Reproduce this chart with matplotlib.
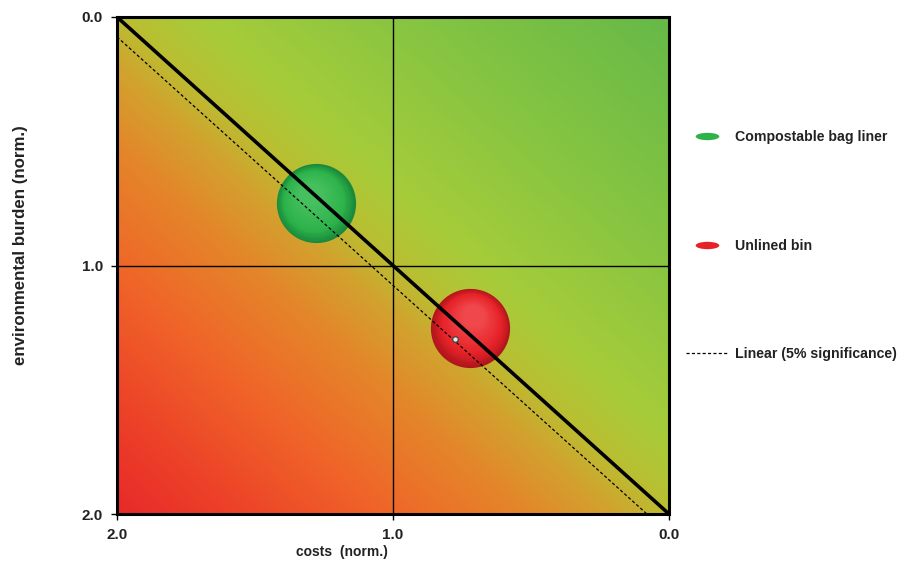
import matplotlib
matplotlib.use("Agg")
import matplotlib.pyplot as plt
import matplotlib.transforms as mtransforms
from matplotlib.colors import LinearSegmentedColormap, to_rgb
from matplotlib.lines import Line2D
from matplotlib.path import Path
import numpy as np

plt.rcParams['font.family'] = ['Liberation Sans', 'DejaVu Sans']

# data
names = ["Compostable bag liner", "Unlined bin"]
costs = [1.28, 0.72]
burden = [0.75, 1.25]
dark_cols = ["#1a8a3c", "#b0161c"]
light_cols = ["#48c060", "#f04a4e"]
base_cols = ["#2db34a", "#e62228"]
hl_offsets = [(-4, 7), (2, 9)]

diag_x = [2.0, 0.0]
diag_y = [0.0, 2.0]
lin_x = [2.0, 0.08]
lin_y = [0.08, 2.0]
lin_label = "Linear (5% significance)"
dot_x, dot_y = 0.776, 1.296

ticks = [0.0, 1.0, 2.0]
tick_labels = ["0.0", "1.0", "2.0"]

fig = plt.figure(figsize=(8.99, 5.65), dpi=100)
ax = fig.add_axes([117/899, 1 - 514/565, 552/899, 497/565])

# background gradient, red bottom-left -> green top-right
grad = LinearSegmentedColormap.from_list("eco", [
    (0.0, "#e82a2a"), (0.1, "#ec4028"), (0.24, "#f06428"),
    (0.37, "#e4862a"), (0.45, "#d2a22e"), (0.51, "#b8c032"),
    (0.58, "#a6cc3a"), (0.78, "#84c442"), (1.0, "#66b948")])
n = 300
u = np.linspace(0, 1, n)
v = np.linspace(1, 0, n)
U, V = np.meshgrid(u, v)
ax.imshow((U + V) / 2, cmap=grad, vmin=0, vmax=1, extent=(2, 0, 2, 0),
          aspect='auto', interpolation='bilinear', zorder=0)

ax.axvline(1.0, color="black", lw=1.0, zorder=1)
ax.axhline(1.0, color="black", lw=1.0, zorder=1)

# bubbles, shaded in layers
d = 57.0
layers = 18
for i in range(len(names)):
    dk = np.array(to_rgb(dark_cols[i]))
    lt = np.array(to_rgb(light_cols[i]))
    bs = np.array(to_rgb(base_cols[i]))
    ax.scatter([costs[i]], [burden[i]], s=d**2, color=dk, lw=0, zorder=2)
    for k in range(1, layers):
        f = k / layers
        if f < 0.3:
            col = dk * (1 - f/0.3) + bs * f/0.3
        else:
            g = (f - 0.3) / 0.7
            col = bs * (1 - g) + lt * g
        tr = mtransforms.offset_copy(ax.transData, fig=fig,
                                     x=hl_offsets[i][0]*f, y=hl_offsets[i][1]*f,
                                     units='points')
        ax.scatter([costs[i]], [burden[i]], s=(d*(1 - 0.75*f))**2, color=col,
                   lw=0, zorder=2, transform=tr)

ax.plot(diag_x, diag_y, color="black", lw=2.6, zorder=3, solid_capstyle='butt')
ax.plot(lin_x, lin_y, color="black", lw=0.9, ls=(0, (2.5, 1.8)), zorder=3)
ax.scatter([dot_x], [dot_y], s=16, color="#e8e8e8", edgecolor="#444444",
           lw=0.9, zorder=4)

ax.set_xlim(2, 0)
ax.set_ylim(2, 0)
ax.set_xticks(ticks)
ax.set_xticklabels(tick_labels)
ax.set_yticks(ticks)
ax.set_yticklabels(tick_labels)
ax.tick_params(direction='out', length=4, width=1, labelsize=11,
               labelcolor="#222222", pad=6)
for lab in ax.get_xticklabels() + ax.get_yticklabels():
    lab.set_fontweight('bold')
for sp in ax.spines.values():
    sp.set_linewidth(2.2)
    sp.set_zorder(5)

ax.set_xlabel("costs  (norm.)", fontsize=10, fontweight='bold', color="#222222")
ax.xaxis.set_label_coords((342 - 117) / 552, -0.062)
ax.set_ylabel("environmental burden (norm.)", fontsize=12.2, fontweight='bold',
              color="#222222")
ax.yaxis.set_label_coords(-0.162, 1 - (245 - 17) / 497)

# legend
ell = Path.unit_circle().transformed(mtransforms.Affine2D().scale(3.2, 1))
handles = [
    Line2D([], [], ls='none', marker=ell, markersize=17, color=base_cols[0],
           markeredgewidth=0),
    Line2D([], [], ls='none', marker=ell, markersize=17, color=base_cols[1],
           markeredgewidth=0),
    Line2D([], [], color="black", lw=0.9, ls=(0, (2.5, 1.8))),
]
leg = fig.legend(handles, names + [lin_label], loc='upper left',
                 bbox_to_anchor=(686/899, 1 - 130/565), frameon=False,
                 fontsize=10.2, labelspacing=6.68, handlelength=3.0,
                 handletextpad=0.45, borderpad=0, borderaxespad=0)
for t in leg.get_texts():
    t.set_fontweight('bold')
    t.set_color("#222222")

fig.savefig("out.png", dpi=100)
